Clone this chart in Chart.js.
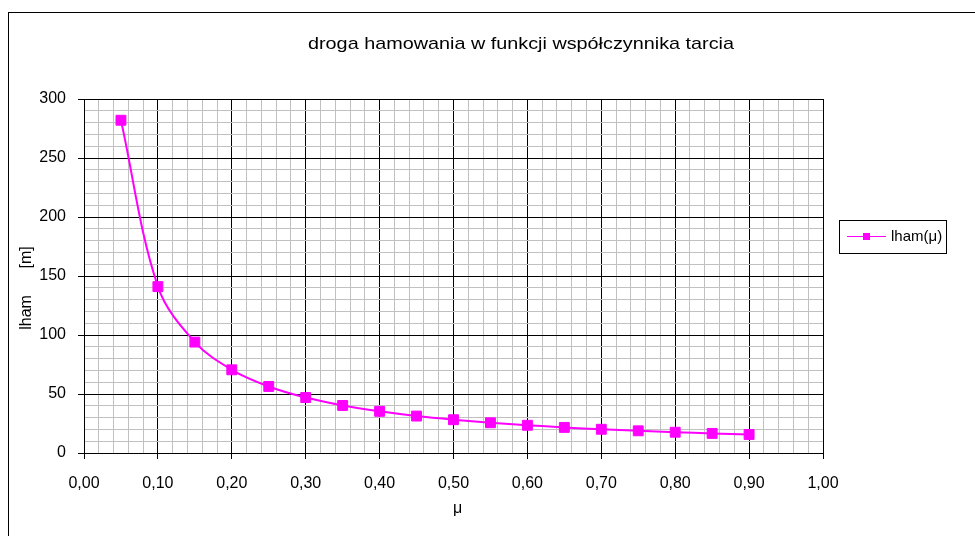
<!DOCTYPE html>
<html>
<head>
<meta charset="utf-8">
<script src="https://cdn.jsdelivr.net/npm/chart.js@4/dist/chart.umd.min.js"></script>
<style>
  html, body { margin: 0; padding: 0; background: #fff; overflow: hidden; }
  #wrap { position: relative; width: 975px; height: 536px; }
</style>
</head>
<body>
<div id="wrap"><canvas id="chart" width="975" height="536"></canvas></div>
<script>
// Współczynnik tarcia μ
const muValues = [0.05, 0.10, 0.15, 0.20, 0.25, 0.30, 0.35, 0.40, 0.45,
                  0.50, 0.55, 0.60, 0.65, 0.70, 0.75, 0.80, 0.85, 0.90];
// Droga hamowania lham [m]
const lhamValues = [282, 141, 94, 70.5, 56.4, 47, 40.3, 35.3, 31.3,
                    28.2, 25.6, 23.5, 21.7, 20.1, 18.8, 17.6, 16.6, 15.7];

const chartTitle = 'droga hamowania w funkcji współczynnika tarcia';
const seriesLabel = 'lham(μ)';
const xAxisTitle = 'μ';
const yAxisTitle = 'lham      [m]';

// Major ticks labelled, minor ticks only drawn as light grid lines
const xRange = { min: 0, max: 1, minorStep: 0.02, majorStep: 0.1 };
const yRange = { min: 0, max: 300, minorStep: 10, majorStep: 50 };

const FONT = '"Liberation Sans", Arial, sans-serif';
const MAGENTA = '#ff00ff';

const isMajor = (v, step) => Math.abs(v / step - Math.round(v / step)) < 1e-6;
const fmtX = v => v.toFixed(2).replace('.', ',');

const decorations = {
  id: 'decorations',
  beforeDraw(chart) {
    const ctx = chart.ctx;
    ctx.save();
    ctx.fillStyle = '#fff';
    ctx.fillRect(0, 0, chart.width, chart.height);
    ctx.strokeStyle = '#000';
    ctx.lineWidth = 1;
    ctx.strokeRect(8.5, 12.5, 2000, 2000);
    ctx.restore();
  },
  afterDraw(chart) {
    const ctx = chart.ctx;
    const area = chart.chartArea;
    ctx.save();
    ctx.fillStyle = '#000';

    // title
    ctx.font = '17px ' + FONT;
    ctx.textAlign = 'center';
    ctx.textBaseline = 'alphabetic';
    const tw = ctx.measureText(chartTitle).width;
    ctx.save();
    ctx.translate(521, 49);
    ctx.scale(426 / tw, 1);
    ctx.fillText(chartTitle, 0, 0);
    ctx.restore();

    // x axis title
    ctx.font = '16px ' + FONT;
    ctx.textAlign = 'center';
    ctx.fillText(xAxisTitle, (area.left + area.right) / 2 + 4, 513);

    // y axis title
    ctx.save();
    ctx.translate(31, 288);
    ctx.rotate(-Math.PI / 2);
    ctx.textAlign = 'center';
    ctx.fillText(yAxisTitle, 0, 0);
    ctx.restore();

    // legend
    const ds = chart.data.datasets[0];
    ctx.strokeStyle = '#000';
    ctx.lineWidth = 1;
    ctx.strokeRect(839.5, 220.5, 107, 33);
    ctx.strokeStyle = ds.borderColor;
    ctx.beginPath();
    ctx.moveTo(847, 236.5);
    ctx.lineTo(886, 236.5);
    ctx.stroke();
    ctx.fillStyle = ds.pointBackgroundColor;
    ctx.fillRect(863, 233, 7, 7);
    ctx.fillStyle = '#000';
    ctx.font = '15px ' + FONT;
    ctx.textAlign = 'left';
    ctx.textBaseline = 'middle';
    ctx.fillText(ds.label, 891, 237);
    ctx.restore();
  }
};

new Chart(document.getElementById('chart'), {
  type: 'line',
  data: {
    datasets: [{
      label: seriesLabel,
      data: muValues.map((m, i) => ({ x: m, y: lhamValues[i] })),
      borderColor: MAGENTA,
      backgroundColor: MAGENTA,
      borderWidth: 2,
      tension: 0.35,
      pointStyle: 'rect',
      pointRadius: 7,
      pointBorderWidth: 1,
      pointBackgroundColor: MAGENTA,
      pointBorderColor: MAGENTA,
      fill: false
    }]
  },
  options: {
    responsive: false,
    devicePixelRatio: 1,
    animation: false,
    layout: { padding: { top: 99, right: 152, bottom: 0, left: 0 } },
    plugins: {
      legend: { display: false },
      title: { display: false },
      tooltip: { enabled: false }
    },
    scales: {
      x: {
        type: 'linear',
        min: xRange.min,
        max: xRange.max,
        afterFit(scale) { scale.height = 83; },
        border: { display: true, color: '#000', width: 1 },
        grid: {
          drawOnChartArea: true,
          drawTicks: true,
          tickLength: 6,
          color: c => isMajor(c.tick.value, xRange.majorStep) ? '#000' : '#c0c0c0',
          tickColor: c => isMajor(c.tick.value, xRange.majorStep) ? '#000' : 'rgba(0,0,0,0)'
        },
        ticks: {
          stepSize: xRange.minorStep,
          autoSkip: false,
          maxRotation: 0,
          padding: 15,
          color: '#000',
          font: { family: FONT, size: 16 },
          callback: v => isMajor(v, xRange.majorStep) ? fmtX(v) : ''
        }
      },
      y: {
        type: 'linear',
        min: yRange.min,
        max: yRange.max,
        afterFit(scale) { scale.width = 84; },
        border: { display: true, color: '#000', width: 1 },
        grid: {
          drawTicks: true,
          tickLength: 6,
          color: c => isMajor(c.tick.value, yRange.majorStep) ? '#000' : '#c0c0c0',
          tickColor: c => isMajor(c.tick.value, yRange.majorStep) ? '#000' : 'rgba(0,0,0,0)'
        },
        ticks: {
          stepSize: yRange.minorStep,
          autoSkip: false,
          padding: 12,
          color: '#000',
          font: { family: FONT, size: 16 },
          callback: v => isMajor(v, yRange.majorStep) ? String(v) : ''
        }
      }
    }
  },
  plugins: [decorations]
});
</script>
</body>
</html>
